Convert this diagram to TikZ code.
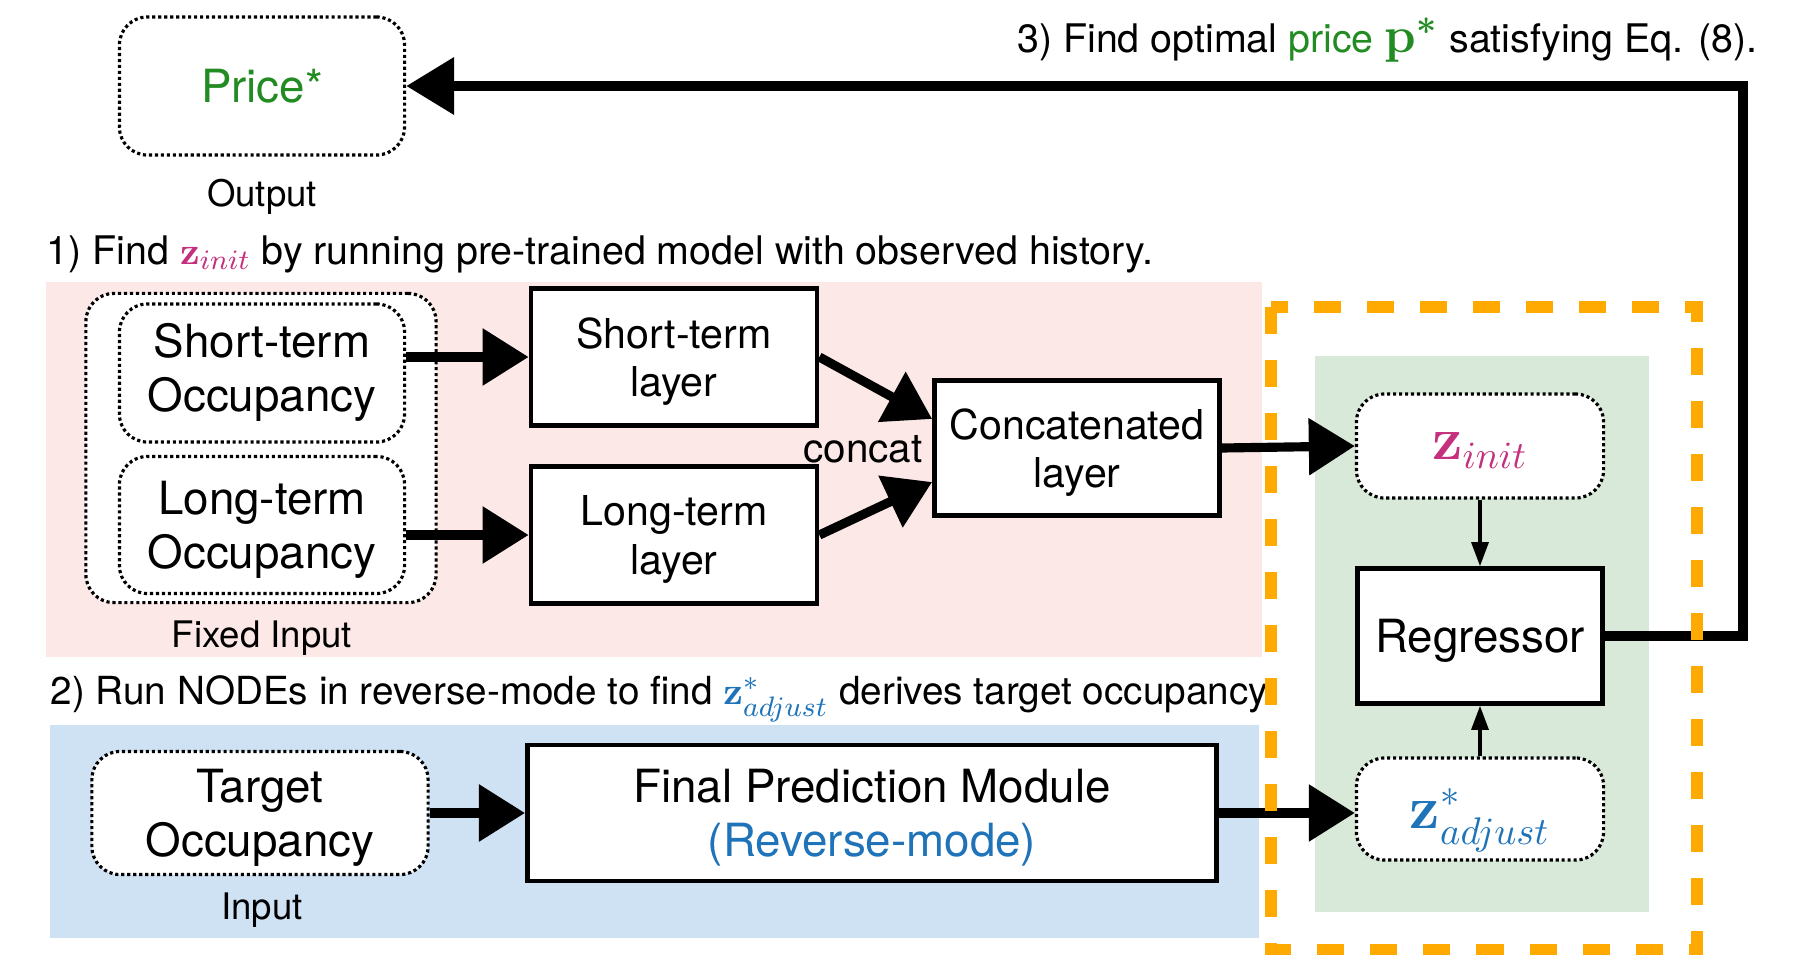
\documentclass[tikz,border=0pt]{standalone}
\usepackage{amsmath}
\usepackage[no-math]{fontspec}
\setmainfont{TeX Gyre Heros}
\usetikzlibrary{arrows.meta}

\definecolor{pinkbg}{RGB}{252,232,230}
\definecolor{bluebg}{RGB}{207,226,243}
\definecolor{greenbg}{RGB}{217,233,217}
\definecolor{orangeline}{RGB}{255,170,0}
\definecolor{pricegreen}{RGB}{34,139,34}
\definecolor{zpink}{RGB}{196,48,126}
\definecolor{zblue}{RGB}{30,115,185}

\newcommand\boxfont{\fontsize{13}{15.3}\selectfont}
\newcommand\layfont{\fontsize{11.7}{13.7}\selectfont}
\newcommand\capfont{\fontsize{11.2}{13.4}\selectfont}
\newcommand\labfont{\fontsize{10.4}{12.5}\selectfont}

\begin{document}
\begin{tikzpicture}
  [x=0.01cm, y=-0.01cm,
   dotbox/.style={draw, fill=white, rounded corners=0.28cm, line width=0.9pt,
     dash pattern=on 0.9pt off 0.8pt, align=center, inner sep=0pt, text depth=0pt},
   solbox/.style={draw, fill=white, line width=1.3pt, align=center, inner sep=0pt,
     text depth=0pt},
   caption/.style={font=\capfont, inner sep=0pt},
   big/.style={line width=2.6pt, -{Triangle[length=4.6mm,width=5.5mm]}},
   fb/.style={line width=3pt, -{Triangle[length=4.8mm,width=5.5mm]}},
   smallarr/.style={line width=0.9pt, -{Triangle[length=2.4mm,width=1.7mm]}}]

  \useasboundingbox (0,0) rectangle (1799,954);
  \fill [pinkbg] (46,282) rectangle (1262,657);
  \fill [bluebg] (50,725) rectangle (1259,938);
  \fill [greenbg] (1315,356) rectangle (1649,912);

  \node [name=cap3, caption, anchor=east] at (1758,40)
    {3) Find optimal {\color{pricegreen}price \Large$\mathbf{p}^{\boldsymbol{*}}$} satisfying Eq. (8).};
  \node [name=cap1, caption, anchor=west] at (46,254)
    {1) Find {\color{zpink}$\mathbf{z}_{init}$} by running pre-trained model with observed history.};
  \node [name=cap2, caption, anchor=west, font=\fontsize{11}{13.2}\selectfont] at (50,699)
    {2) Run NODEs in reverse-mode to find {\color{zblue}$\mathbf{z}^*_{adjust}$} derives target occupancy.};

  \node [name=price, dotbox, minimum width=2.85cm, minimum height=1.38cm, font=\boxfont,
    text=pricegreen] at (262,86) {Price*};
  \node [name=outlab, font=\labfont] at (262,197) {Output};

  \node [name=fixedin, dotbox, minimum width=3.5cm, minimum height=3.09cm] at (261,448) {};
  \node [name=stocc, dotbox, minimum width=2.85cm, minimum height=1.38cm, font=\boxfont,
    text depth=3.2pt] at (262,373) {Short-term\\Occupancy};
  \node [name=ltocc, dotbox, minimum width=2.85cm, minimum height=1.37cm, font=\boxfont]
    at (262,525) {Long-term\\Occupancy};
  \node [name=fixlab, font=\labfont] at (262,638) {Fixed Input};

  \node [name=stlay, solbox, minimum width=2.86cm, minimum height=1.37cm, font=\layfont]
    at (674,357) {Short-term\\layer};
  \node [name=ltlay, solbox, minimum width=2.86cm, minimum height=1.37cm, font=\layfont]
    at (674,535) {Long-term\\layer};
  \node [name=concat, solbox, minimum width=2.85cm, minimum height=1.35cm, font=\layfont]
    at (1077,448) {Concatenated\\layer};
  \node [name=concatlab, font=\fontsize{11.5}{13.5}\selectfont] at (863,449) {concat};

  \node [name=tocc, dotbox, minimum width=3.36cm, minimum height=1.23cm, font=\boxfont]
    at (260,813) {Target\\Occupancy};
  \node [name=inlab, font=\labfont] at (262,910) {Input};
  \node [name=fpm, solbox, minimum width=6.89cm, minimum height=1.36cm, font=\boxfont]
    at (872,813) {Final Prediction Module\\{\color{zblue}(Reverse-mode)}};

  \node [name=zinit, dotbox, minimum width=2.47cm, minimum height=1.04cm,
    font=\fontsize{16}{19}\selectfont] at (1480,446) {\color{zpink}$\mathbf{z}_{init}$};
  \node [name=reg, solbox, minimum width=2.45cm, minimum height=1.35cm, font=\boxfont]
    at (1480,636) {Regressor};
  \node [name=zadj, dotbox, minimum width=2.47cm, minimum height=1.02cm,
    font=\fontsize{16}{19}\selectfont] at (1480,809) {\color{zblue}$\mathbf{z}^*_{adjust}$};

  \path [big] (stocc.east |- stlay.west) edge (stlay.west)
              (ltocc.east |- ltlay.west) edge (ltlay.west)
              (stlay.east) edge ([yshift=0.29cm]concat.west)
              (ltlay.east) edge ([yshift=-0.34cm]concat.west)
              (concat.east) edge (zinit.west)
              (tocc.east) edge (tocc.east -| fpm.west)
              (fpm.east) edge (fpm.east -| zadj.west);
  \path [smallarr] (zinit.south) edge (reg.north)
                   (zadj.north) edge (reg.south);
  \draw [fb] (reg.east) -- ++(138,0) |- (price.east);

  \draw [orangeline, line width=3.6pt, dash pattern=on 0.27cm off 0.26cm]
    (1271,307) rectangle (1697,950);
\end{tikzpicture}
\end{document}
